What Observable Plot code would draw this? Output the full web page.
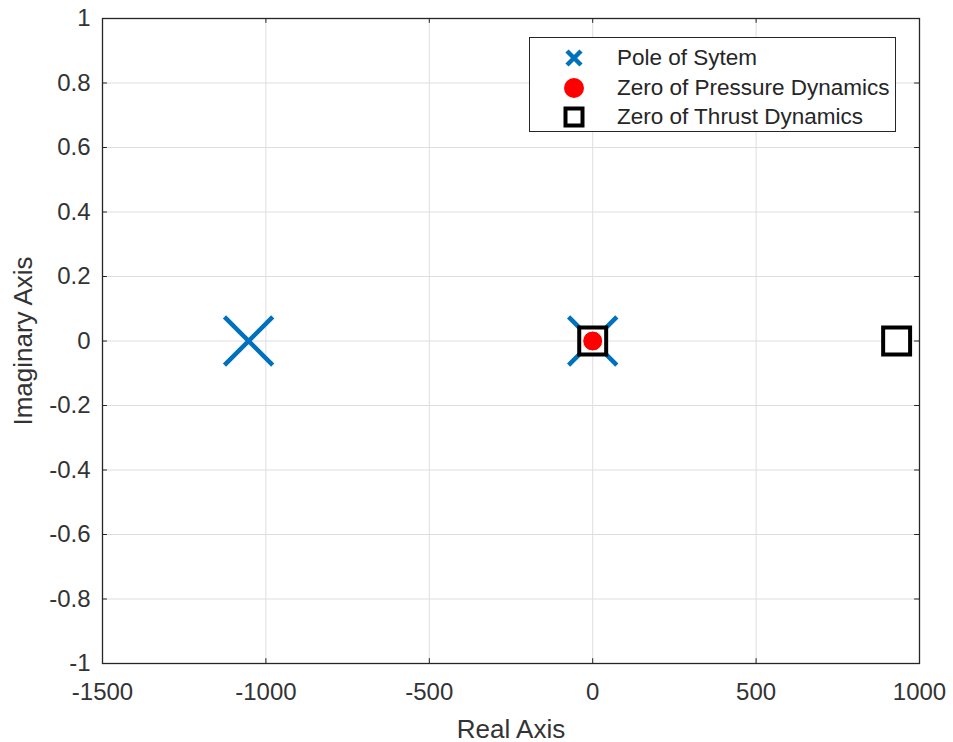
<!DOCTYPE html>
<html>
<head>
<meta charset="utf-8">
<script src="https://cdn.jsdelivr.net/npm/d3@7"></script>
<script src="https://cdn.jsdelivr.net/npm/@observablehq/plot@0.6"></script>
<style>
  html, body { margin: 0; padding: 0; background: #fff; }
  #wrap { position: relative; width: 953px; height: 742px; font-family: "Liberation Sans", Arial, sans-serif; }
  #wrap g[aria-label="x-axis label"], #wrap g[aria-label="y-axis label"] { font-size: 26px; }
  #legend {
    position: absolute; left: 529px; top: 37px; width: 365px; height: 93px;
    border: 1px solid #262626; background: #fff; box-sizing: content-box;
  }
  .row { position: absolute; left: 0; height: 30px; }
  .row svg { position: absolute; left: 31px; top: 2px; }
  .row span { position: absolute; left: 87px; white-space: nowrap; font-size: 22.5px; color: #262626; line-height: 30px; top: 0; }
</style>
</head>
<body>
<div id="wrap"><div id="legend"></div></div>
<script>
// Pole–zero map of the system, thrust and pressure transfer functions
const seriesNames = ["Pole of Sytem", "Zero of Pressure Dynamics", "Zero of Thrust Dynamics"];

const poleRe = [-1053, 0];
const poleIm = [0, 0];
const pressureZeroRe = [0];
const pressureZeroIm = [0];
const thrustZeroRe = [0, 930];
const thrustZeroIm = [0, 0];

const xTicks = [-1500, -1000, -500, 0, 500, 1000];
const yTicks = [-1, -0.8, -0.6, -0.4, -0.2, 0, 0.2, 0.4, 0.6, 0.8, 1];

const toPoints = (re, im) => re.map((r, i) => ({re: r, im: im[i]}));
const poles = toPoints(poleRe, poleIm);
const pressureZeros = toPoints(pressureZeroRe, pressureZeroIm);
const thrustZeros = toPoints(thrustZeroRe, thrustZeroIm);

const blue = "#0072bd";
const axisColor = "#262626";

const chart = Plot.plot({
  width: 953,
  height: 742,
  marginLeft: 102,
  marginRight: 34,
  marginTop: 18,
  marginBottom: 79,
  style: {fontFamily: "'Liberation Sans', Arial, sans-serif", fontSize: "24px", color: "#333", background: "#fff"},
  x: {domain: [-1500, 1000]},
  y: {domain: [-1, 1]},
  marks: [
    Plot.gridX(xTicks, {stroke: "#dedede", strokeOpacity: 1}),
    Plot.gridY(yTicks, {stroke: "#dedede", strokeOpacity: 1}),
    // short inward tick marks on all four sides
    Plot.ruleX(xTicks, {y1: -1, y2: -0.985, stroke: axisColor}),
    Plot.ruleX(xTicks, {y1: 1, y2: 0.985, stroke: axisColor}),
    Plot.ruleY(yTicks, {x1: -1500, x2: -1485, stroke: axisColor}),
    Plot.ruleY(yTicks, {x1: 1000, x2: 985, stroke: axisColor}),
    Plot.axisX(xTicks, {
      tickSize: 0, tickPadding: 19, tickFormat: d => String(d),
      label: "Real Axis", labelAnchor: "center", labelArrow: "none", labelOffset: 74
    }),
    Plot.axisY(yTicks, {
      tickSize: 0, tickPadding: 12, tickFormat: d => String(d),
      label: "Imaginary Axis", labelAnchor: "center", labelArrow: "none", labelOffset: 89
    }),
    Plot.dot(poles, {x: "re", y: "im", symbol: "times", r: 22, stroke: blue, strokeWidth: 4.5}),
    Plot.dot(thrustZeros, {x: "re", y: "im", symbol: "square", r: 15.2, stroke: "#000", fill: "#fff", strokeWidth: 4}),
    Plot.dot(pressureZeros, {x: "re", y: "im", symbol: "circle", r: 10, fill: "#ff0000", stroke: "#fff", strokeWidth: 1}),
    Plot.frame({stroke: axisColor, strokeWidth: 1.3})
  ]
});

const wrap = document.getElementById("wrap");
wrap.insertBefore(chart, wrap.firstChild);

// Legend box drawn over the axes
const glyphs = [
  `<svg width="26" height="26" viewBox="-13 -13 26 26"><path d="M-7,-7L7,7M-7,7L7,-7" stroke="${blue}" stroke-width="4.5" fill="none"/></svg>`,
  `<svg width="26" height="26" viewBox="-13 -13 26 26"><circle r="10" fill="#ff0000"/></svg>`,
  `<svg width="26" height="26" viewBox="-13 -13 26 26"><rect x="-8.5" y="-8.5" width="17" height="17" stroke="#000" stroke-width="4" fill="none"/></svg>`
];
const legend = document.getElementById("legend");
seriesNames.forEach((name, i) => {
  const row = document.createElement("div");
  row.className = "row";
  row.style.top = (5 + i * 29.5) + "px";
  row.innerHTML = glyphs[i] + `<span>${name}</span>`;
  legend.appendChild(row);
});
</script>
</body>
</html>
